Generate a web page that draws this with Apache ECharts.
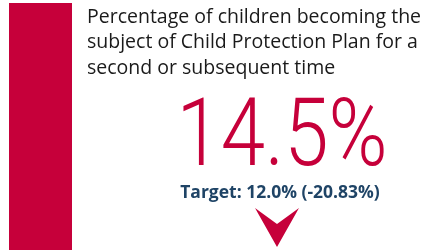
<!DOCTYPE html>
<html>
<head>
<meta charset="utf-8">
<script src="https://cdn.jsdelivr.net/npm/echarts@6/dist/echarts.min.js"></script>
<style>
  html, body { margin: 0; padding: 0; background: #fff; }
  #chart { width: 429px; height: 250px; }
</style>
</head>
<body>
<div id="chart"></div>
<script>
// KPI card: status bar on the left, measure name, actual value, target
const measureName = 'Percentage of children becoming the\nsubject of Child Protection Plan for a\nsecond or subsequent time'
const actualValue = 14.5
const targetValue = 12.0
const variancePct = -20.83
const statusBar = [1] // full-height status strip (red = off target)

const red = '#c6003a'
const navy = '#1f4466'

const chart = echarts.init(document.getElementById('chart'))

let option = {
  animation: false,
  grid: { left: 9, top: 3, width: 63, bottom: 0 },
  xAxis: { type: 'category', data: ['status'], show: false },
  yAxis: { type: 'value', min: 0, max: 1, show: false },
  series: [
    {
      type: 'bar',
      data: statusBar,
      barWidth: '100%',
      itemStyle: { color: red }
    }
  ],
  graphic: [
    {
      type: 'text',
      left: 87,
      top: 4.5,
      style: {
        text: measureName,
        font: '19.5px "Open Sans", "Noto Sans", sans-serif',
        lineHeight: 25.5,
        fill: '#1a1a1a'
      }
    },
    {
      type: 'text',
      x: 282,
      y: 188.5,
      scaleX: 0.85,
      style: {
        text: actualValue.toFixed(1) + '%',
        font: '300 94px Roboto, sans-serif',
        fill: red,
        align: 'center',
        verticalAlign: 'bottom'
      }
    },
    {
      type: 'text',
      x: 280,
      y: 193,
      style: {
        text: 'Target: ' + targetValue.toFixed(1) + '% (' + variancePct.toFixed(2) + '%)',
        font: 'bold 17.5px "Open Sans", "Noto Sans", sans-serif',
        fill: navy,
        align: 'center',
        verticalAlign: 'middle'
      }
    },
    {
      type: 'polygon',
      shape: {
        points: [[255, 208], [277, 224], [299, 208], [277, 247]]
      },
      style: { fill: red }
    }
  ]
}
chart.setOption(option)
</script>
</body>
</html>
